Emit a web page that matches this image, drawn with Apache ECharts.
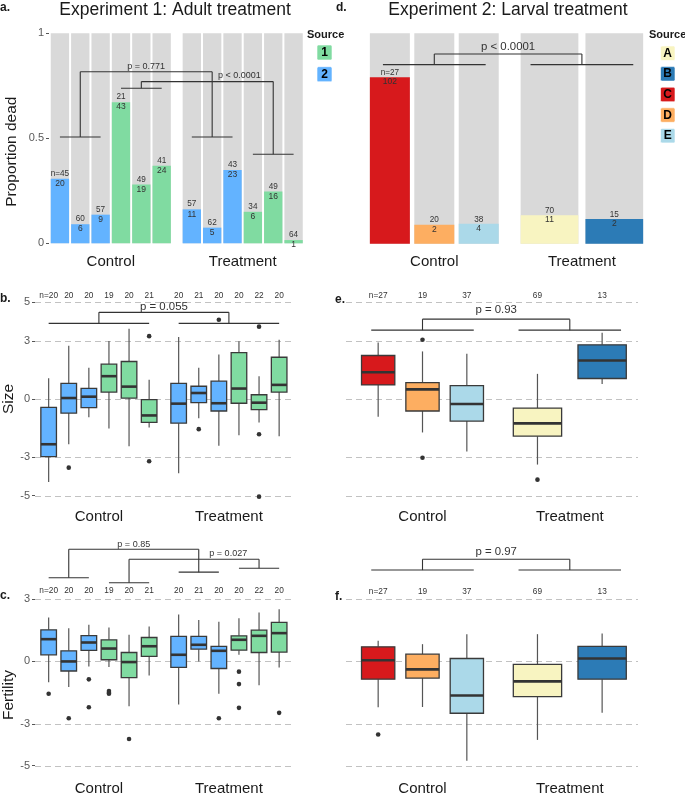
<!DOCTYPE html>
<html><head><meta charset="utf-8">
<script src="https://cdn.jsdelivr.net/npm/echarts@6/dist/echarts.min.js"></script>
<style>html,body{margin:0;padding:0;background:#fff}#c{width:685px;height:796px}</style>
</head><body><div id="c"></div><script>
// ================= DATA =================
const groups = ['Control', 'Treatment'];

// Experiment 1 (adult treatment): 6 bars / boxes per group
const exp1Source = ['2','2','2','1','1','1','2','2','2','1','1','1'];
const exp1Alive  = [45,60,57,21,49,41,57,62,43,34,49,64];
const exp1Dead   = [20,6,9,43,19,24,11,5,23,6,16,1];
const exp1SizeN  = [20,20,20,19,20,21,20,21,20,20,22,20];
const exp1FertN  = [20,20,20,19,20,21,20,21,20,20,22,20];
// [lower whisker, Q1, median, Q3, upper whisker]
const exp1Size = [
  [-4.29,-2.98,-2.34,-0.43,1.07],
  [-2.34,-0.73,0.05,0.81,2.75],
  [-0.95,-0.45,0.12,0.55,1.61],
  [-1.52,0.36,1.18,1.80,3.00],
  [-2.44,0.05,0.64,1.94,3.63],
  [-1.47,-1.21,-0.85,-0.03,1.00],
  [-3.84,-1.25,-0.24,0.81,3.20],
  [-1.00,-0.19,0.31,0.66,1.61],
  [-2.42,-0.62,-0.22,0.92,2.30],
  [-1.87,-0.22,0.54,2.40,2.98],
  [-1.21,-0.55,-0.19,0.22,1.18],
  [-1.92,0.36,0.73,2.16,3.06]
];
const exp1SizeOut = [[],[-3.55],[],[],[],[3.25,-3.22],[],[-1.56],[4.1],[],[3.74,-1.82,-5.05],[]];
const exp1Fert = [
  [-1.00,0.32,1.07,1.52,2.11],
  [-1.23,-0.46,0.00,0.51,1.60],
  [-0.24,0.53,0.91,1.24,1.76],
  [-0.27,0.08,0.62,1.04,1.63],
  [-2.15,-0.78,-0.03,0.43,1.28],
  [-0.67,0.24,0.73,1.15,1.68],
  [-2.07,-0.29,0.32,1.20,2.25],
  [0.00,0.59,0.80,1.20,1.99],
  [-1.55,-0.34,0.51,0.72,1.91],
  [0.32,0.54,1.04,1.23,2.07],
  [-1.15,0.43,1.23,1.50,2.35],
  [-0.29,0.45,1.36,1.88,2.51]
];
const exp1FertOut = [[-1.55],[-2.73],[-0.86,-2.2],[-1.42,-1.5,-1.55],[-3.73],[],[],[],[-2.73],[-0.49,-1.09,-2.23],[],[-2.47]];

// Experiment 2 (larval treatment)
const exp2Group  = [0,0,0,1,1];
const exp2Source = ['C','D','E','A','B'];
const exp2Alive  = [27,20,38,70,15];
const exp2Dead   = [102,2,4,11,2];
const exp2N      = [27,19,37,69,13];
const exp2Size = [
  [-0.92,0.73,1.38,2.25,2.92],
  [-1.73,-0.62,0.50,0.85,2.46],
  [-2.72,-1.14,-0.26,0.69,2.34],
  [-3.39,-1.92,-1.26,-0.47,1.30],
  [0.78,1.06,1.99,2.80,3.43]
];
const exp2SizeOut = [[],[3.06,-3.04],[],[-4.17],[]];
const exp2Fert = [
  [-2.20,-0.85,0.06,0.70,0.99],
  [-2.19,-0.80,-0.38,0.35,0.83],
  [-4.77,-2.49,-1.64,0.14,1.31],
  [-3.77,-1.69,-0.96,-0.14,1.31],
  [-2.47,-0.85,0.14,0.72,1.34]
];
const exp2FertOut = [[-3.51],[],[],[],[]];

const yTicksProp = [0,0.5,1];
const yTicksSize = [-5,-3,0,3,5];
const yTicksFert = [-5,-3,0,3];

const legend1 = ['1','2'];
const legend2 = ['A','B','C','D','E'];

// significance annotations (data units)
const annA = {brackets:[{from:0,to:2,y:0.506},{from:3,to:5,y:0.738},{from:6,to:8,y:0.506},{from:9,to:11,y:0.424}],
  links:[{a:0,b:2,top:0.817,label:'p = 0.771',ly:0.844},{a:1,b:3,top:0.77,label:'p < 0.0001',lx:1.974,ly:0.797}]};
const annB = {brackets:[{from:0,to:5,y:3.91},{from:6,to:11,y:3.91}],
  links:[{a:0,b:1,top:4.48,label:'p = 0.055',ly:4.76}]};
const annC = {brackets:[{from:0,to:2,y:4.02},{from:3,to:5,y:3.78},{from:6,to:8,y:4.29},{from:9,to:11,y:4.48}],
  links:[{a:0,b:2,top:5.39,label:'p = 0.85',ly:5.63},{a:1,b:3,top:4.91,label:'p = 0.027',lx:1.995,ly:5.19}]};
const annD = {brackets:[{g:0,y:0.851},{g:1,y:0.851}], links:[{a:0,b:1,top:0.902,label:'p < 0.0001',ly:0.936}]};
const annE = {brackets:[{g:0,y:3.56},{g:1,y:3.56}], links:[{a:0,b:1,top:4.13,label:'p = 0.93',ly:4.62}]};
const annF = {brackets:[{g:0,y:4.39},{g:1,y:4.39}], links:[{a:0,b:1,top:4.91,label:'p = 0.97',ly:5.27}]};

// ================= STYLE / LAYOUT =================
const FONT = '"Liberation Sans", Arial, Helvetica, sans-serif';
const INK = '#333333';
const sourceColors = {'1':'#80dba1','2':'#63b3ff','A':'#f8f4c1','B':'#2c7bb6','C':'#d7191c','D':'#fdae61','E':'#abd9e9'};

const L = {
  a:{left:49,right:305,top:33.3,bottom:243.3,c1:110.8,c2:242.7,ymin:0,ymax:1,xm:11},
  b:{left:35,right:292,top:302.3,bottom:495.7,c1:98.9,c2:228.9,ymin:-5,ymax:5,xm:14},
  c:{left:35,right:292,top:599,bottom:766.1,c1:98.9,c2:228.9,ymin:-5,ymax:3,xm:15.5},
  d:{left:365,right:650,top:33.3,bottom:243.8,c1:434.3,c2:581.9,ymin:0,ymax:1,xm:11},
  e:{left:346,right:638,top:302.3,bottom:495.7,c1:422.5,c2:569.8,ymin:-5,ymax:5,xm:14},
  f:{left:346,right:638,top:599,bottom:766.1,c1:422.5,c2:569.8,ymin:-5,ymax:3,xm:15.5}
};
const order = ['a','b','c','d','e','f'];
function xr(p){ const u = p.c2 - p.c1; return {min: 1 - (p.c1 - p.left)/u, max: 2 + (p.right - p.c2)/u}; }

// dodge layout
const exp1BarStep = 0.1543, exp1BarW = 0.139, exp1BoxStep = 0.1546, exp1BoxW = 0.12;
const exp2Step = [0.301, 0.439], exp2BarW = [0.271, 0.391], exp2BoxW = [0.226, 0.328];
function pos1(j, step){ const g = Math.floor(j/6), i = j % 6; return g + 1 + (i - 2.5) * step; }
function pos2(j){
  const g = exp2Group[j];
  const members = []; exp2Group.forEach((gg,k)=>{ if (gg===g) members.push(k); });
  const i = members.indexOf(j);
  return g + 1 + (i - (members.length-1)/2) * exp2Step[g];
}
const x1Bar = exp1Alive.map((_,j)=>pos1(j, exp1BarStep));
const x1Box = exp1SizeN.map((_,j)=>pos1(j, exp1BoxStep));
const x2 = exp2N.map((_,j)=>pos2(j));

// ================= HELPERS =================
function txt(x, y, s, size, color, weight, align){
  return {type:'text', style:{x:x, y:y, text:s, textAlign:align||'center', textVerticalAlign:'middle',
    align:align||'center', verticalAlign:'middle', fontSize:size, fontFamily:FONT, fontWeight:weight||'normal', fill:color||INK}};
}
function barSeries(gi, xs, alive, dead, src, widthOf, lo, hi){
  return {type:'custom', xAxisIndex:gi, yAxisIndex:gi, z:2, silent:true,
    data: xs.map((x,j)=>[x, dead[j]/(alive[j]+dead[j])]),
    renderItem(params, api){
      const j = params.dataIndex, x = api.value(0), p = api.value(1), w = widthOf(j);
      const a = api.coord([x - w/2, 0]), b = api.coord([x + w/2, 1]), t = api.coord([x, p]);
      const cx = (a[0]+b[0])/2, bw = b[0]-a[0];
      return {type:'group', children:[
        {type:'rect', shape:{x:a[0], y:b[1], width:bw, height:a[1]-b[1]}, style:{fill:'#d9d9d9'}},
        {type:'rect', shape:{x:a[0], y:t[1], width:bw, height:a[1]-t[1]}, style:{fill:sourceColors[src[j]]}},
        txt(cx, t[1]-lo, (j===0?'n=':'') + alive[j], 8.2),
        txt(cx, t[1]+hi, String(dead[j]), 8.5)
      ]};
    }};
}
function boxSeries(gi, xs, stats, src, widthOf){
  return {type:'custom', xAxisIndex:gi, yAxisIndex:gi, z:3, silent:true,
    data: xs.map((x,j)=>[x].concat(stats[j])),
    renderItem(params, api){
      const j = params.dataIndex, x = api.value(0), w = widthOf(j);
      const lo = api.coord([x, api.value(1)]), q1 = api.coord([x - w/2, api.value(2)]),
            md = api.coord([x, api.value(3)]), q3 = api.coord([x + w/2, api.value(4)]), hi = api.coord([x, api.value(5)]);
      const cx = lo[0];
      const st = {stroke:'#555', lineWidth:1.2};
      return {type:'group', children:[
        {type:'line', shape:{x1:cx, y1:hi[1], x2:cx, y2:q3[1]}, style:st},
        {type:'line', shape:{x1:cx, y1:q1[1], x2:cx, y2:lo[1]}, style:st},
        {type:'rect', shape:{x:q1[0], y:q3[1], width:q3[0]-q1[0], height:q1[1]-q3[1]}, style:{fill:sourceColors[src[j]], stroke:'#3a3a3a', lineWidth:1.3}},
        {type:'line', shape:{x1:q1[0], y1:md[1], x2:q3[0], y2:md[1]}, style:{stroke:'#333', lineWidth:2.6}}
      ]};
    }};
}
function outlierSeries(gi, xs, outs){
  const data = []; outs.forEach((o,j)=>o.forEach(v=>data.push([xs[j], v])));
  return {type:'scatter', xAxisIndex:gi, yAxisIndex:gi, data, symbolSize:4.6, clip:false, silent:true, z:4,
    itemStyle:{color:'#333', opacity:1}};
}
function gridSeries(gi, vals){
  return {type:'custom', xAxisIndex:gi, yAxisIndex:gi, z:1, silent:true, data: vals.map(v=>[1, v]),
    renderItem(params, api){
      const cs = params.coordSys; const y = Math.round(api.coord([1, api.value(1)])[1]) + 0.5;
      return {type:'line', shape:{x1:cs.x, y1:y, x2:cs.x+cs.width, y2:y}, style:{stroke:'#c2c2c2', lineWidth:1, lineDash:[6,4]}};
    }};
}
function textSeries(gi, items, size){
  return {type:'custom', xAxisIndex:gi, yAxisIndex:gi, z:5, silent:true, data: items.map(t=>[t.x, t.y]),
    renderItem(params, api){ const p = api.coord([api.value(0), api.value(1)]); return txt(p[0], p[1], items[params.dataIndex].text, size); }};
}
function segSeries(gi, segs){
  return {type:'custom', xAxisIndex:gi, yAxisIndex:gi, z:5, silent:true, data: segs,
    renderItem(params, api){
      const p1 = api.coord([api.value(0), api.value(1)]), p2 = api.coord([api.value(2), api.value(3)]);
      return {type:'line', shape:{x1:p1[0], y1:p1[1], x2:p2[0], y2:p2[1]}, style:{stroke:'#333', lineWidth:1.1}};
    }};
}
// build bracket segments + p labels
function annotate(gi, ann, xs, half, pSize){
  const segs = [], stems = [], labels = [];
  ann.brackets.forEach(b=>{
    const x1 = (b.g === undefined) ? xs[b.from] : b.g + 1 - half;
    const x2 = (b.g === undefined) ? xs[b.to]   : b.g + 1 + half;
    segs.push([x1, b.y, x2, b.y]); stems.push([(x1+x2)/2, b.y]);
  });
  ann.links.forEach(l=>{
    const A = stems[l.a], B = stems[l.b];
    segs.push([A[0], A[1], A[0], l.top], [B[0], B[1], B[0], l.top], [A[0], l.top, B[0], l.top]);
    labels.push({x: l.lx !== undefined ? l.lx : (A[0]+B[0])/2, y: l.ly, text: l.label});
  });
  return [segSeries(gi, segs), textSeries(gi, labels, pSize)];
}
function nLabels(gi, xs, ns, y){
  return textSeries(gi, xs.map((x,j)=>({x:x, y:y, text:(j===0?'n=':'') + ns[j]})), 8.3);
}

// ================= AXES =================
const grids = order.map(k=>({left:L[k].left, top:L[k].top, width:L[k].right-L[k].left, height:L[k].bottom-L[k].top}));
const xAxes = order.map((k,i)=>{ const r = xr(L[k]); return {gridIndex:i, type:'value', min:r.min, max:r.max,
  axisLine:{show:false}, axisTick:{show:false}, splitLine:{show:false},
  axisLabel:{customValues:[1,2], formatter:v=>groups[Math.round(v)-1] || '', fontSize:15, fontFamily:FONT, color:'#1a1a1a', margin:L[k].xm}}; });
const yTickMap = {a:yTicksProp, b:yTicksSize, c:yTicksFert};
const yAxes = order.map((k,i)=>{ const t = yTickMap[k]; const show = !!t; return {gridIndex:i, type:'value', min:L[k].ymin, max:L[k].ymax,
  interval: k==='a' ? 0.5 : undefined,
  axisLine:{show:false}, splitLine:{show:false},
  axisTick:{show:show, length:3, customValues:t, lineStyle:{color:'#555'}},
  axisLabel:{show:show, customValues:t, fontSize:11, fontFamily:FONT, color:'#595959', margin:5}}; });

// ================= SERIES =================
const w1 = () => exp1BarW, wb1 = () => exp1BoxW;
const w2 = j => exp2BarW[exp2Group[j]], wb2 = j => exp2BoxW[exp2Group[j]];
const series = [
  // a
  barSeries(0, x1Bar, exp1Alive, exp1Dead, exp1Source, w1, 5.3, 4.9),
  ...annotate(0, annA, x1Bar, 0, 9),
  // b
  gridSeries(1, yTicksSize),
  boxSeries(1, x1Box, exp1Size, exp1Source, wb1),
  outlierSeries(1, x1Box, exp1SizeOut),
  nLabels(1, x1Box, exp1SizeN, 5.34),
  ...annotate(1, annB, x1Box, 0, 11.4),
  // c
  gridSeries(2, yTicksFert),
  boxSeries(2, x1Box, exp1Fert, exp1Source, wb1),
  outlierSeries(2, x1Box, exp1FertOut),
  nLabels(2, x1Box, exp1FertN, 3.4),
  ...annotate(2, annC, x1Box, 0, 9),
  // d
  barSeries(3, x2, exp2Alive, exp2Dead, exp2Source, w2, 4.5, 4.5),
  ...annotate(3, annD, x2, 0.348, 11.4),
  // e
  gridSeries(4, yTicksSize),
  boxSeries(4, x2, exp2Size, exp2Source, wb2),
  outlierSeries(4, x2, exp2SizeOut),
  nLabels(4, x2, exp2N, 5.34),
  ...annotate(4, annE, x2, 0.348, 11.4),
  // f
  gridSeries(5, yTicksFert),
  boxSeries(5, x2, exp2Fert, exp2Source, wb2),
  outlierSeries(5, x2, exp2FertOut),
  nLabels(5, x2, exp2N, 3.37),
  ...annotate(5, annF, x2, 0.348, 11.4)
];

// ================= STATIC TEXT / LEGENDS =================
function gText(x, y, s, size, weight, align, color, rot){
  const el = {type:'text', x:x, y:y, style:{text:s, x:0, y:0, textAlign:align||'center', align:align||'center', textVerticalAlign:'middle', verticalAlign:'middle',
    fontSize:size, fontFamily:FONT, fontWeight:weight||'normal', fill:color||'#1a1a1a'}, silent:true};
  if (rot) el.rotation = rot;
  return el;
}
const graphics = [
  gText(175, 10, 'Experiment 1: Adult treatment', 17.5),
  gText(508, 10, 'Experiment 2: Larval treatment', 17.5),
  gText(0, 8, 'a.', 12, 'bold', 'left'),
  gText(336, 8, 'd.', 12, 'bold', 'left'),
  gText(0, 299, 'b.', 12, 'bold', 'left'),
  gText(335, 300, 'e.', 12, 'bold', 'left'),
  gText(0, 596, 'c.', 12, 'bold', 'left'),
  gText(335, 597, 'f.', 12, 'bold', 'left'),
  gText(12, 151.7, 'Proportion dead', 15.5, 'normal', 'center', '#1a1a1a', Math.PI/2),
  gText(9, 399, 'Size', 15.5, 'normal', 'center', '#1a1a1a', Math.PI/2),
  gText(9, 695, 'Fertility', 15.5, 'normal', 'center', '#1a1a1a', Math.PI/2),
  gText(307, 35, 'Source', 11, 'bold', 'left'),
  gText(649, 35, 'Source', 11, 'bold', 'left')
];
legend1.forEach((s,i)=>{
  const y = 45 + i*21.7;
  graphics.push({type:'rect', shape:{x:317, y:y, width:15, height:15, r:1.5}, style:{fill:sourceColors[s], stroke:'rgba(255,255,255,0.6)', lineWidth:1}, silent:true});
  graphics.push(gText(324.5, y+7.8, s, 12, 'bold', 'center', '#000'));
});
legend2.forEach((s,i)=>{
  const y = 46 + i*20.6;
  graphics.push({type:'rect', shape:{x:660.5, y:y, width:14.5, height:14.5, r:1.5}, style:{fill:sourceColors[s], stroke:'rgba(255,255,255,0.6)', lineWidth:1}, silent:true});
  graphics.push(gText(667.7, y+7.5, s, 12, 'bold', 'center', '#000'));
});

const chart = echarts.init(document.getElementById('c'), null, {renderer:'canvas'});
chart.setOption({
  animation:false,
  backgroundColor:'#fff',
  grid: grids, xAxis: xAxes, yAxis: yAxes, series: series, graphic: graphics
});
</script></body></html>
